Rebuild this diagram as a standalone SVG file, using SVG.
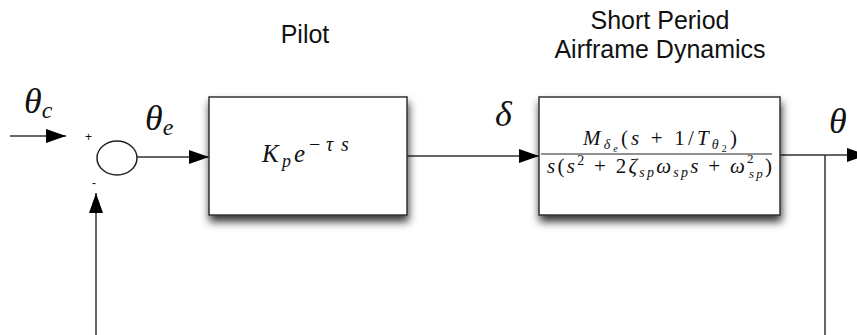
<svg xmlns="http://www.w3.org/2000/svg" width="857" height="335" viewBox="0 0 857 335">
<style>
.ln{stroke:#333;stroke-width:1.5;fill:none}
.box{fill:#fff;stroke:#333;stroke-width:1.5}
.title{font-family:"Liberation Sans",Arial,sans-serif;font-size:25px;fill:#111;text-anchor:middle}
.m{font-family:"Liberation Serif","Times New Roman",serif;font-style:italic;fill:#111}
.r{font-style:normal}
.sg{font-family:"Liberation Sans",Arial,sans-serif;font-size:12px;fill:#111}
</style>
<defs>
<marker id="ah" markerWidth="20" markerHeight="14" refX="20" refY="7" orient="auto" markerUnits="userSpaceOnUse">
<path d="M0,0 L20,7 L0,14 Z" fill="#000"/>
</marker>
<filter id="sh" x="-10%" y="-10%" width="125%" height="140%">
<feDropShadow dx="1" dy="6" stdDeviation="4" flood-color="#000" flood-opacity="0.8"/>
</filter>
</defs>
<g id="titles">
<text class="title" x="305" y="43">Pilot</text>
<text class="title" x="660" y="29">Short Period</text>
<text class="title" x="660" y="58">Airframe Dynamics</text>
</g>
<g id="connectors">
<line class="ln" x1="10" y1="136" x2="66" y2="136" marker-end="url(#ah)"/>
<line class="ln" x1="137" y1="157" x2="209" y2="157" marker-end="url(#ah)"/>
<line class="ln" x1="407" y1="156" x2="539" y2="156" marker-end="url(#ah)"/>
<line class="ln" x1="780" y1="155" x2="867" y2="155" marker-end="url(#ah)"/>
<polyline class="ln" points="825,155 825,335"/>
<line class="ln" x1="96" y1="335" x2="96" y2="193" marker-end="url(#ah)"/>
</g>
<g id="sum">
<ellipse cx="117" cy="158" rx="20" ry="17" fill="#fff" stroke="#222" stroke-width="1.5"/>
<text class="sg" x="85" y="141">+</text>
<text class="sg" x="92" y="187">-</text>
</g>
<g id="pilot">
<rect class="box" x="209" y="97" width="198" height="118" filter="url(#sh)"/>
<text class="m" font-size="25"><tspan x="262" y="162">K</tspan><tspan x="282" y="167" font-size="18">p</tspan><tspan x="294" y="162">e</tspan><tspan class="r" x="309" y="151" font-size="20">−</tspan><tspan x="326" y="151" font-size="20">τ</tspan><tspan x="341" y="151" font-size="20">s</tspan></text>
</g>
<g id="airframe">
<rect class="box" x="539" y="97" width="241" height="118" filter="url(#sh)"/>
<text class="m" x="583" y="145" font-size="21" textLength="154" lengthAdjust="spacing">M<tspan font-size="14" dy="4">δ</tspan><tspan font-size="10" dy="3">e</tspan><tspan dy="-7"><tspan class="r">(</tspan>s <tspan class="r">+ 1/</tspan>T</tspan><tspan font-size="14" dy="4">θ</tspan><tspan font-size="10" class="r" dy="3">2</tspan><tspan class="r" dy="-7">)</tspan></text>
<line x1="541" y1="154" x2="772" y2="154" stroke="#222" stroke-width="1"/>
<text class="m" x="547" y="173" font-size="21" textLength="225" lengthAdjust="spacing">s<tspan class="r">(</tspan>s<tspan class="r" font-size="14" dy="-8">2</tspan><tspan class="r" dy="8"> + 2</tspan>ζ<tspan font-size="14" dy="4">sp</tspan><tspan dy="-4">ω</tspan><tspan font-size="14" dy="4">sp</tspan><tspan dy="-4">s </tspan><tspan class="r">+ </tspan>ω<tspan font-size="13" class="r" dy="-10">2</tspan><tspan font-size="13" dx="-7" dy="15">sp</tspan><tspan class="r" dy="-5">)</tspan></text>
</g>
<g id="labels">
<text class="m" x="24" y="113" font-size="36">θ<tspan font-size="24" dy="5">c</tspan></text>
<text class="m" x="145" y="130" font-size="36">θ<tspan font-size="24" dy="5">e</tspan></text>
<text class="m" x="495" y="126" font-size="36">δ</text>
<text class="m" x="829" y="133" font-size="36">θ</text>
</g>
</svg>
